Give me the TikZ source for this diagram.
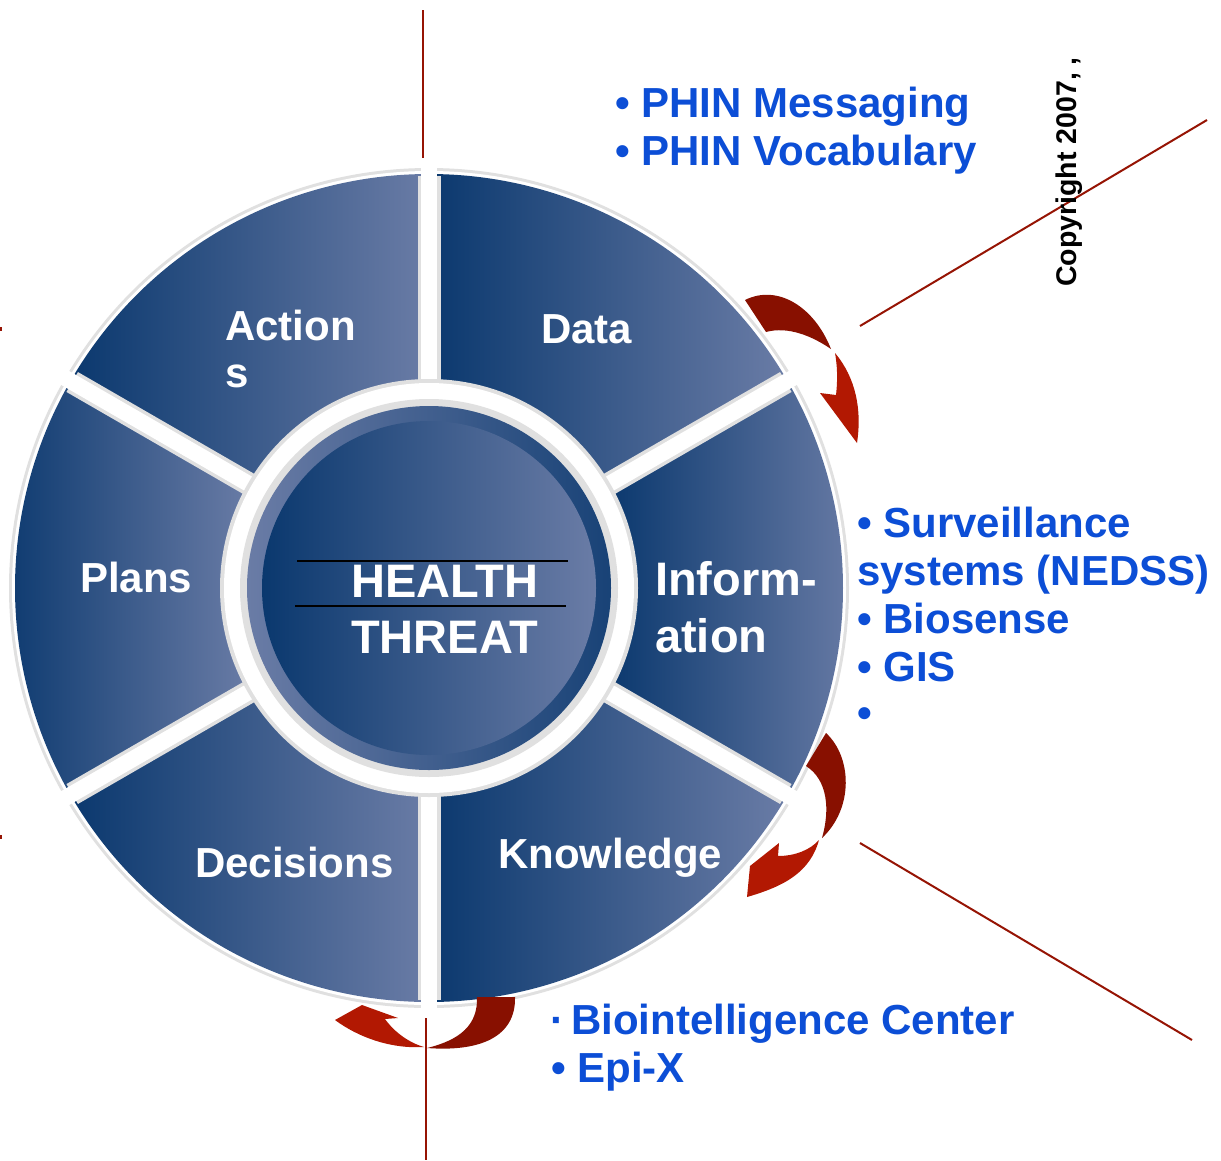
\documentclass[tikz,border=0pt]{standalone}
\usepackage{fontspec}
\setmainfont{Liberation Sans}
\usetikzlibrary{calc}
\definecolor{segdark}{RGB}{10,56,110}
\definecolor{seglight}{RGB}{106,124,166}
\definecolor{phinblue}{RGB}{12,78,214}
\definecolor{linered}{RGB}{150,20,4}
\definecolor{arrdark}{RGB}{136,16,0}
\definecolor{arrbright}{RGB}{178,24,2}
\definecolor{shadowgray}{RGB}{224,224,224}
\begin{document}
\begin{tikzpicture}[x=1pt,y=-1pt,
  seglabel/.style={text=white,font=\bfseries\fontsize{42}{48}\selectfont,inner sep=0pt,anchor=base west},
  biglabel/.style={text=white,font=\bfseries\fontsize{47}{52}\selectfont,inner sep=0pt,anchor=base west},
  bluelabel/.style={text=phinblue,font=\bfseries\fontsize{42}{48}\selectfont,inner sep=0pt,anchor=base west},
  redline/.style={draw=linered,line width=2pt},
  gapshadow/.style={draw=shadowgray,line width=23pt},
  gapwhite/.style={draw=white,line width=16pt},
  segment/.style={left color=segdark,right color=seglight},
  arrowdarkpart/.style={fill=arrdark},
  arrowbrightpart/.style={fill=arrbright}
]
\useasboundingbox (0,0) rectangle (1221,1160);
\fill[white] (0,0) rectangle (1221,1160);
\coordinate (C) at (429,588);

% outer rim
\fill[shadowgray] (C) circle (420);
\fill[white] (C) circle (417);

% segments
\foreach \a/\b in {-90/-30,-30/30,30/90,90/150,150/210,210/270}{
  \shade[segment] ($(C)+(\a:414)$) arc[start angle=\a,end angle=\b,radius=414]
     -- ($(C)+(\b:206)$) arc[start angle=\b,end angle=\a,radius=206] -- cycle;
}
% gaps
\foreach \a in {-90,-30,30,90,150,210}{
  \draw[gapshadow] (C) -- ($(C)+(\a:412)$);
}
\foreach \a in {-90,-30,30,90,150,210}{
  \draw[gapwhite] (C) -- ($(C)+(\a:425)$);
}
% inner white ring and center disc
\fill[shadowgray] (C) circle (209);
\fill[white] (C) circle (205);
\fill[shadowgray] (C) circle (189);
\shade[left color=seglight,right color=segdark!85!seglight] (C) circle (182);
\shade[left color=segdark,right color=seglight] (C) circle (167);

% segment labels
\node[seglabel] (action1) at (225,340) {Action};
\node[seglabel] (action2) at (225,387) {s};
\node[seglabel] (data) at (541,343) {Data};
\node[seglabel] (plans) at (80,592) {Plans};
\node[biglabel] (inform1) at (655,595) {Inform-};
\node[biglabel] (inform2) at (655,652) {ation};
\node[seglabel] (knowledge) at (498,868) {Knowledge};
\node[seglabel] (decisions) at (195,877) {Decisions};

% center
\node[biglabel] (health) at (351,597) {HEALTH};
\node[biglabel] (threat) at (351,653) {THREAT};
\coordinate (l1a) at (297,561); \coordinate (l1b) at (568,561);
\coordinate (l2a) at (295,606); \coordinate (l2b) at (566,606);
\draw[black,line width=2.5pt] (l1a) -- (l1b);
\draw[black,line width=2.5pt] (l2a) -- (l2b);

% red lines
\coordinate (t1) at (423,10); \coordinate (t2) at (423,158);
\coordinate (b1) at (426,1018); \coordinate (b2) at (426,1160);
\coordinate (d1) at (860,326); \coordinate (d2) at (1207,120);
\coordinate (e1) at (860,843); \coordinate (e2) at (1192,1040);
\coordinate (s1) at (0.8,327); \coordinate (s2) at (0.8,331);
\coordinate (s3) at (0.8,835); \coordinate (s4) at (0.8,839);
\draw[redline] (t1) -- (t2);
\draw[redline] (b1) -- (b2);
\draw[redline] (d1) -- (d2);
\draw[redline] (e1) -- (e2);
\draw[redline,line width=1.6pt] (s1) -- (s2);
\draw[redline,line width=1.6pt] (s3) -- (s4);

% curved arrows
% top right
\fill[arrowdarkpart] (745,300) .. controls (777,284) and (814,306) .. (831,349)
   .. controls (812,336) and (788,326) .. (766,332) -- cycle;
\fill[arrowbrightpart] (835,353) .. controls (856,378) and (862,410) .. (857,443)
   -- (820,393) -- (836,395) .. controls (838,378) and (837,364) .. (835,353) -- cycle;
% right
\fill[arrowdarkpart] (826,733) .. controls (852,757) and (854,808) .. (822,838)
   .. controls (830,810) and (828,780) .. (806,766) -- cycle;
\fill[arrowbrightpart] (819,840) .. controls (810,872) and (785,886) .. (747,897)
   -- (750,866) -- (779,843) -- (778,856) .. controls (795,856) and (810,850) .. (819,840) -- cycle;
% bottom
\fill[arrowdarkpart] (515,997) .. controls (516,1037) and (480,1052) .. (427,1048)
   .. controls (460,1040) and (478,1025) .. (477,997) -- cycle;
\fill[arrowbrightpart] (424,1047) .. controls (390,1049) and (358,1037) .. (335,1020)
   -- (362,1005) -- (398,1018) -- (385,1019) .. controls (395,1033) and (410,1043) .. (424,1047) -- cycle;

% blue text
\node[bluelabel] (phin1) at (615,117) {• PHIN Messaging};
\node[bluelabel] (phin2) at (615,165) {• PHIN Vocabulary};
\node[bluelabel] (surv1) at (857,537) {• Surveillance};
\node[bluelabel] (surv2) at (857,585) {systems (NEDSS)};
\node[bluelabel] (bios) at (857,633) {• Biosense};
\node[bluelabel] (gis) at (857,681) {• GIS};
\node[bluelabel] (dot) at (857,727) {•};
\node[bluelabel] (bioint) at (550,1034) {·\hspace{7pt}Biointelligence Center};
\node[bluelabel] (epix) at (551,1082) {• Epi-X};

% copyright
\node[text=black,font=\bfseries\fontsize{28.5}{32}\selectfont,inner sep=0pt,rotate=90] (copy) at (1069,172) {Copyright 2007, ,};
\end{tikzpicture}
\end{document}
